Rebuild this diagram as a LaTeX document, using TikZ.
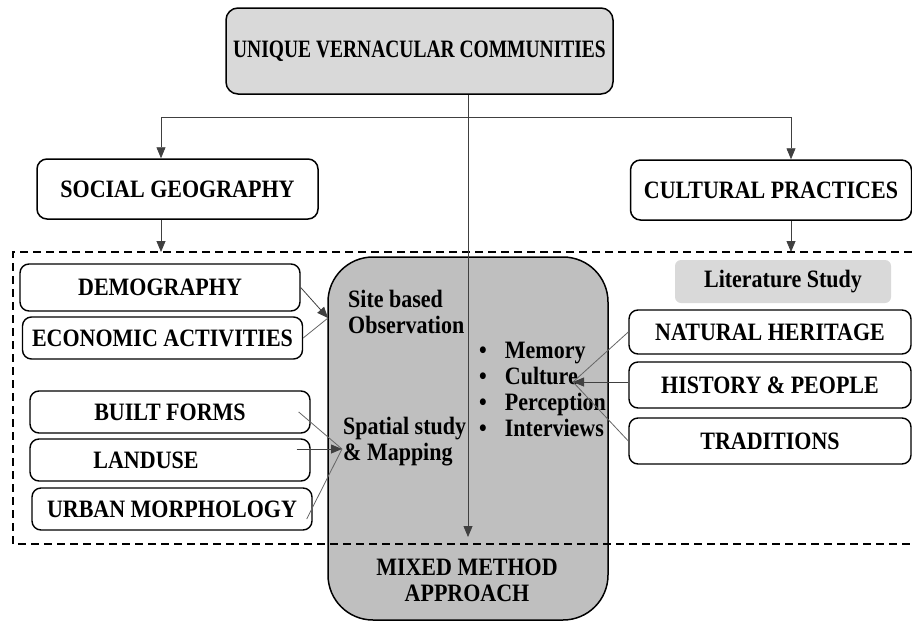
\documentclass[tikz,border=0pt]{standalone}
\usepackage{fontspec}
\setmainfont{Liberation Serif}
\newfontfamily\tallserif[FakeStretch=0.88]{Liberation Serif}
\newfontfamily\narrowserif[FakeStretch=0.78]{Liberation Serif}
\usetikzlibrary{arrows.meta}
\tikzstyle{mainbox}=[draw,rounded corners=12pt,line width=1.5pt,fill=black!15,minimum width=387,minimum height=86,inner sep=0pt]
\tikzstyle{groupbox}=[draw,rounded corners=10pt,line width=1.5pt,fill=white,minimum width=281,minimum height=60,inner sep=0pt]
\tikzstyle{itembox}=[draw,rounded corners=9pt,line width=1.4pt,fill=white,minimum width=280,inner sep=0pt]
\tikzstyle{sourcebox}=[fill=black!15,rounded corners=6pt,minimum width=216,minimum height=43,inner sep=0pt]
\tikzstyle{methodbox}=[draw,rounded corners=45pt,line width=1.5pt,fill=black!25,minimum width=280,minimum height=363,inner sep=0pt]
\tikzstyle{edge} = [draw,line width=0.8pt,black!75,-{Triangle[length=11pt,width=9pt]}]
\tikzstyle{undirectededge} = [draw,line width=0.8pt,black!60]
\tikzstyle{dashframe} = [draw,line width=1.4pt,dash pattern=on 8pt off 5pt]
\tikzstyle{boxfont} = [font=\tallserif\bfseries\fontsize{25}{26}\selectfont]
\tikzstyle{freetext} = [boxfont,align=left,anchor=west,inner sep=0pt]

\begin{document}
\begin{tikzpicture}[x=1pt,y=-1pt]
    \useasboundingbox (0,0) rectangle (912,621);
    % First the community box and the two groups under it
    \node[mainbox, font=\narrowserif\bfseries\fontsize{25}{26}\selectfont] (uvc) at (419.5,51) {UNIQUE VERNACULAR COMMUNITIES};
    \node[groupbox, boxfont] (sg) at (177.5,189) {SOCIAL GEOGRAPHY};
    \node[groupbox, boxfont] (cp) at (771,190) {CULTURAL PRACTICES};

    % The method box in the middle
    \node[methodbox] (approach) at (468,438.5) {};
    \node[boxfont, align=center, inner sep=0pt] (mma) at (467,580) {MIXED METHOD\\APPROACH};
    \node[freetext] (site) at (348,312) {Site based\\Observation};
    \node[freetext] (spatial) at (343,442) {Spatial study\\\& Mapping};
    \node[freetext] (methods) at (479,389) {\textbullet\hspace{18pt}Memory\\\textbullet\hspace{18pt}Culture\\\textbullet\hspace{18pt}Perception\\\textbullet\hspace{18pt}Interviews};

    % Left and right boxes
    \foreach \pos/\name/\label/\h in {{(160,287.5)/demog/DEMOGRAPHY/47}, {(162.5,338)/econ/ECONOMIC ACTIVITIES/42}, {(170,412)/built/BUILT FORMS/42}, {(170,460)/landuse/LANDUSE\hspace*{48pt}/42}, {(172,509)/urban/URBAN MORPHOLOGY/42}}
        \node[itembox, boxfont, minimum height=\h] (\name) at \pos {\label};
    \node[sourcebox, boxfont] (lit) at (783,281.5) {Literature Study};
    \foreach \pos/\name/\label/\h in {{(770,332)/nat/NATURAL HERITAGE/44}, {(770,385)/hist/HISTORY \& PEOPLE/46}, {(770,441)/trad/TRADITIONS/46}}
        \node[itembox, boxfont, minimum width=282, minimum height=\h] (\name) at \pos {\label};

    % Dashed frame round the study
    \draw[dashframe] (912,252) -- (13,252) -- (13,544) -- (912,544);

    % Where the arrows meet
    \coordinate (branch) at (467,117);
    \coordinate (frametop) at (13,252);
    \coordinate (mmatip) at (468,537);
    \coordinate (sitetip) at (328,318);
    \coordinate (spatialtip) at (342,449);
    \coordinate (culturetip) at (573,382);

    % Connect the boxes
    \draw[edge] (uvc.south -| mmatip) -- (mmatip);
    \draw[edge] (branch) -| ([xshift=-16.5]sg.north);
    \draw[edge] (branch) -| ([xshift=20]cp.north);
    \draw[edge] ([xshift=-16.5]sg.south) -- ([xshift=-16.5]sg.south |- frametop);
    \draw[edge] ([xshift=20]cp.south) -- ([xshift=20]cp.south |- frametop);
    \draw[edge] (demog.east) -- (sitetip);
    \draw[undirectededge] (econ.east) -- (sitetip);
    \draw[undirectededge] ([xshift=-12]built.east) -- (spatialtip);
    \draw[edge] ([xshift=-14]landuse.east |- spatialtip) -- (spatialtip);
    \draw[undirectededge] ([xshift=-6,yshift=-10]urban.east) -- (spatialtip);
    \draw[undirectededge] (nat.west) -- (culturetip);
    \draw[edge] (hist.west |- culturetip) -- (culturetip);
    \draw[undirectededge] (trad.west) -- (culturetip);
\end{tikzpicture}
\end{document}
